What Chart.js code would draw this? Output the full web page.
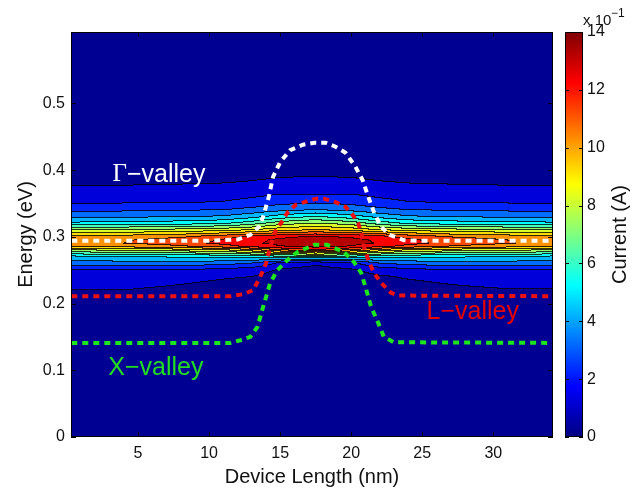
<!DOCTYPE html>
<html>
<head>
<meta charset="utf-8">
<script src="https://cdn.jsdelivr.net/npm/chart.js@4.4.1/dist/chart.umd.min.js"></script>
<style>
  html, body { margin: 0; padding: 0; background: #fff; }
  #wrap { width: 644px; height: 491px; }
</style>
</head>
<body>
<div id="wrap"><canvas id="chart"></canvas></div>
<script>
// tick labels
const xTicks = [5, 10, 15, 20, 25, 30];
const energyTicks = [0, 0.1, 0.2, 0.3, 0.4, 0.5];
const currentTicks = [0, 2, 4, 6, 8, 10, 12, 14]; // x 10^-1 A

// current map (units of 1e-1 A)
const xGrid = [0, 4, 8, 11, 13, 15, 17.5, 20, 22, 24, 27, 31, 34.5];
const energyGrid = [0.18, 0.20, 0.22, 0.24, 0.25, 0.26, 0.27, 0.28, 0.285, 0.29,
                    0.295, 0.30, 0.31, 0.32, 0.33, 0.34, 0.35, 0.37, 0.39, 0.42];
const currentColumns = [
  [0.1, 0.5, 1.0, 1.6, 1.9, 3.5, 4.8, 8.0, 10.0, 10.6, 10.5, 10.2, 8.0, 5.2, 3.7, 2.7, 1.9, 1.15, 0.6, 0.2],
  [0.1, 0.5, 1.0, 1.6, 2.0, 3.6, 5.0, 8.3, 10.3, 11.0, 10.9, 10.4, 8.1, 5.3, 3.8, 2.8, 2.0, 1.2, 0.6, 0.2],
  [0.1, 0.4, 0.8, 1.3, 2.0, 3.6, 5.2, 8.6, 10.8, 11.5, 11.4, 10.8, 8.3, 5.5, 3.9, 2.9, 2.0, 1.25, 0.65, 0.2],
  [0.1, 0.3, 0.6, 1.1, 1.7, 3.4, 5.3, 9.0, 11.5, 12.3, 12.1, 11.5, 8.6, 5.8, 4.1, 3.0, 2.1, 1.3, 0.7, 0.25],
  [0.05, 0.25, 0.55, 1.0, 1.5, 3.0, 5.5, 9.8, 12.3, 12.8, 12.7, 12.2, 9.0, 6.5, 4.6, 3.3, 2.4, 1.4, 0.8, 0.3],
  [0, 0.1, 0.3, 0.6, 0.9, 1.8, 5.8, 11.0, 12.9, 13.3, 13.2, 12.7, 9.6, 7.5, 5.4, 3.7, 2.8, 1.6, 0.95, 0.35],
  [0, 0.05, 0.1, 0.3, 0.6, 1.2, 6.0, 12.0, 13.3, 13.8, 13.6, 13.1, 10.0, 8.0, 6.0, 4.0, 3.0, 1.5, 1.0, 0.4],
  [0, 0.1, 0.3, 0.6, 0.9, 1.7, 5.8, 11.0, 12.9, 13.4, 13.3, 12.8, 9.6, 7.5, 5.4, 3.7, 2.8, 1.6, 0.95, 0.35],
  [0.05, 0.2, 0.5, 0.9, 1.4, 3.0, 5.5, 9.8, 12.3, 12.9, 12.8, 12.3, 9.0, 6.5, 4.6, 3.3, 2.4, 1.4, 0.8, 0.3],
  [0.1, 0.3, 0.6, 1.1, 1.7, 3.4, 5.3, 9.0, 11.6, 12.4, 12.2, 11.6, 8.6, 5.8, 4.1, 3.0, 2.1, 1.3, 0.7, 0.25],
  [0.1, 0.4, 0.8, 1.3, 2.0, 3.6, 5.2, 8.6, 10.9, 11.6, 11.5, 10.9, 8.3, 5.5, 3.9, 2.9, 2.0, 1.25, 0.65, 0.2],
  [0.1, 0.5, 0.95, 1.55, 2.0, 3.6, 5.0, 8.3, 10.4, 11.1, 11.0, 10.5, 8.1, 5.3, 3.8, 2.8, 2.0, 1.2, 0.6, 0.2],
  [0.1, 0.5, 0.95, 1.55, 1.9, 3.5, 4.8, 8.0, 10.0, 10.5, 10.4, 10.1, 8.0, 5.2, 3.7, 2.7, 1.9, 1.15, 0.6, 0.2]
];

// valley band edges (nm, eV)
const gammaX = [0.3, 10, 12, 12.9, 13.5, 13.8, 14.2, 14.5, 15.0, 15.7, 16.6, 17.4, 18.2, 18.9, 19.6, 20.3, 20.8, 21.2, 21.6, 22.1, 22.7, 23.7, 25, 34.2];
const gammaE = [0.294, 0.294, 0.296, 0.303, 0.315, 0.33, 0.36, 0.39, 0.412, 0.43, 0.438, 0.441, 0.441, 0.435, 0.426, 0.405, 0.385, 0.36, 0.337, 0.315, 0.303, 0.295, 0.294, 0.294];
const lX = [0.3, 11.5, 12.4, 13.1, 13.6, 14.0, 14.3, 14.7, 15.2, 15.5, 16.1, 16.7, 17.5, 18.1, 18.9, 19.6, 20.1, 20.5, 20.7, 20.9, 21.2, 21.6, 22.1, 22.8, 23.3, 34.2];
const lE = [0.211, 0.211, 0.214, 0.22, 0.24, 0.26, 0.285, 0.31, 0.325, 0.336, 0.348, 0.352, 0.357, 0.357, 0.352, 0.345, 0.333, 0.32, 0.306, 0.285, 0.265, 0.246, 0.231, 0.216, 0.212, 0.211];
const xvX = [0.3, 11.5, 12.2, 12.9, 13.4, 13.8, 14.3, 14.8, 15.5, 16.2, 17.4, 18.3, 19.5, 20.2, 20.7, 21.0, 21.4, 21.9, 22.3, 23.0, 34.2];
const xvE = [0.141, 0.141, 0.145, 0.15, 0.165, 0.195, 0.231, 0.25, 0.265, 0.277, 0.288, 0.288, 0.277, 0.262, 0.246, 0.225, 0.195, 0.171, 0.15, 0.142, 0.141];

const font = '"Liberation Sans", Arial, Helvetica, sans-serif';
Chart.defaults.font.family = font;
Chart.defaults.color = '#111';

function jet(t) {
  const c = v => Math.max(0, Math.min(1, v));
  return [
    c(Math.min(4 * t - 1.5, -4 * t + 4.5)),
    c(Math.min(4 * t - 0.5, -4 * t + 3.5)),
    c(Math.min(4 * t + 0.5, -4 * t + 2.5))
  ].map(v => Math.round(v * 255));
}

function locate(grid, v) {
  const n = grid.length;
  if (v <= grid[0]) return [0, 0];
  if (v >= grid[n - 1]) return [n - 2, 1];
  let i = 0;
  while (grid[i + 1] < v) i++;
  return [i, (v - grid[i]) / (grid[i + 1] - grid[i])];
}

const pts = (xs, ys) => xs.map((v, i) => ({ x: v, y: ys[i] }));

// filled contour map under the lines
const contourMap = {
  id: 'contourMap',
  beforeDatasetsDraw(chart) {
    const { ctx, chartArea: a, scales: { x, y } } = chart;
    const w = Math.round(a.right - a.left), h = Math.round(a.bottom - a.top);
    const off = document.createElement('canvas');
    off.width = w; off.height = h;
    const octx = off.getContext('2d');
    const img = octx.createImageData(w, h);
    const cols = [], rows = [];
    for (let px = 0; px < w; px++) cols.push(locate(xGrid, x.getValueForPixel(a.left + px + 0.5)));
    for (let py = 0; py < h; py++) rows.push(locate(energyGrid, y.getValueForPixel(a.top + py + 0.5)));
    const levels = new Int8Array(w * h);
    for (let py = 0; py < h; py++) {
      const [j, fy] = rows[py];
      for (let px = 0; px < w; px++) {
        const [i, fx] = cols[px];
        const c0 = currentColumns[i], c1 = currentColumns[i + 1];
        const v = (1 - fx) * ((1 - fy) * c0[j] + fy * c0[j + 1]) + fx * ((1 - fy) * c1[j] + fy * c1[j + 1]);
        levels[py * w + px] = Math.max(0, Math.min(13, Math.floor(v)));
      }
    }
    const palette = [];
    for (let k = 0; k < 14; k++) palette.push(jet((k + 0.25) / 14));
    for (let py = 0; py < h; py++) {
      for (let px = 0; px < w; px++) {
        const idx = py * w + px, lv = levels[idx];
        const edge = (px < w - 1 && levels[idx + 1] !== lv) || (py < h - 1 && levels[idx + w] !== lv);
        const base = palette[lv];
        const col = edge ? base.map(c => Math.round(c * 0.2)) : base;
        img.data[idx * 4] = col[0];
        img.data[idx * 4 + 1] = col[1];
        img.data[idx * 4 + 2] = col[2];
        img.data[idx * 4 + 3] = 255;
      }
    }
    octx.putImageData(img, 0, 0);
    ctx.drawImage(off, a.left, a.top);
  },
  afterDraw(chart) {
    const { ctx, chartArea: a, scales: { x, y, cb } } = chart;
    ctx.save();
    // frame + inward ticks
    ctx.strokeStyle = '#000';
    ctx.lineWidth = 1;
    ctx.strokeRect(a.left + 0.5, a.top + 0.5, a.right - a.left - 1, a.bottom - a.top - 1);
    ctx.beginPath();
    xTicks.forEach(v => {
      const px = Math.round(x.getPixelForValue(v)) + 0.5;
      ctx.moveTo(px, a.bottom); ctx.lineTo(px, a.bottom - 5);
      ctx.moveTo(px, a.top); ctx.lineTo(px, a.top + 5);
    });
    energyTicks.forEach(v => {
      const py = Math.round(y.getPixelForValue(v)) + 0.5;
      ctx.moveTo(a.left, py); ctx.lineTo(a.left + 5, py);
      ctx.moveTo(a.right, py); ctx.lineTo(a.right - 5, py);
    });
    ctx.stroke();

    // colour bar
    const cl = Math.round(a.right) + 12, cw = 18;
    for (let py = Math.round(a.top); py < Math.round(a.bottom); py++) {
      const c = jet(cb.getValueForPixel(py + 0.5) / 14);
      ctx.fillStyle = `rgb(${c[0]},${c[1]},${c[2]})`;
      ctx.fillRect(cl, py, cw, 1);
    }
    ctx.strokeRect(cl + 0.5, a.top + 0.5, cw - 1, a.bottom - a.top - 1);
    ctx.beginPath();
    currentTicks.forEach(v => {
      const py = Math.round(cb.getPixelForValue(v)) + 0.5;
      ctx.moveTo(cl, py); ctx.lineTo(cl + 4, py);
      ctx.moveTo(cl + cw, py); ctx.lineTo(cl + cw - 4, py);
    });
    ctx.stroke();
    ctx.fillStyle = '#111';
    ctx.textBaseline = 'alphabetic';
    ctx.textAlign = 'left';
    ctx.font = `15px ${font}`;
    ctx.fillText('x 10', cl + 18, 25);
    ctx.font = `12px ${font}`;
    ctx.fillText('\u22121', cl + 46, 17);
    ctx.save();
    ctx.translate(620, (a.top + a.bottom) / 2);
    ctx.rotate(-Math.PI / 2);
    ctx.textAlign = 'center';
    ctx.textBaseline = 'middle';
    ctx.font = `20px ${font}`;
    ctx.fillText('Current (A)', 0, 0);
    ctx.restore();

    // valley labels
    ctx.textBaseline = 'middle';
    ctx.textAlign = 'left';
    let gx = x.getPixelForValue(3.2), gy = y.getPixelForValue(0.393);
    ctx.fillStyle = '#fff';
    ctx.font = `25px "Liberation Serif", "Times New Roman", serif`;
    ctx.fillText('\u0393', gx, gy);
    gx += ctx.measureText('\u0393').width;
    ctx.font = `25px ${font}`;
    ctx.fillText('\u2212valley', gx, gy);
    ctx.fillStyle = '#e60000';
    ctx.fillText('L\u2212valley', x.getPixelForValue(25.3), y.getPixelForValue(0.187));
    ctx.fillStyle = '#22dd22';
    ctx.fillText('X\u2212valley', x.getPixelForValue(2.9), y.getPixelForValue(0.103));
    ctx.restore();
  }
};

const line = (data, color) => ({
  data, borderColor: color, borderWidth: 4, borderDash: [6, 5], borderCapStyle: 'butt',
  pointRadius: 0, showLine: true, fill: false, tension: 0
});

new Chart(document.getElementById('chart'), {
  type: 'scatter',
  data: {
    datasets: [
      line(pts(xvX, xvE), '#1ee61e'),
      line(pts(lX, lE), '#ee1111'),
      line(pts(gammaX, gammaE), '#ffffff')
    ]
  },
  options: {
    responsive: true,
    maintainAspectRatio: false,
    animation: false,
    events: [],
    layout: { padding: { top: 32, left: 0, right: 2, bottom: 0 } },
    plugins: { legend: { display: false }, tooltip: { enabled: false } },
    scales: {
      x: {
        type: 'linear', position: 'bottom', min: 0.28, max: 34.2,
        afterBuildTicks: s => { s.ticks = xTicks.map(v => ({ value: v })); },
        afterFit: s => { s.height = 54; },
        grid: { display: false, drawTicks: false },
        border: { display: false },
        ticks: { padding: 7, font: { size: 16 }, color: '#111' },
        title: { display: true, text: 'Device Length (nm)', font: { size: 20 }, color: '#111', padding: { top: 0, bottom: 2 } }
      },
      y: {
        type: 'linear', position: 'left', min: 0, max: 0.607,
        afterBuildTicks: s => { s.ticks = energyTicks.map(v => ({ value: v })); },
        afterFit: s => { s.width = 71; },
        grid: { display: false, drawTicks: false },
        border: { display: false },
        ticks: { padding: 6, font: { size: 16 }, color: '#111', callback: v => v === 0 ? '0' : v.toFixed(1) },
        title: { display: true, text: 'Energy (eV)', font: { size: 20 }, color: '#111', padding: { top: 14, bottom: 0 } }
      },
      cb: {
        type: 'linear', position: 'right', min: 0, max: 14,
        afterBuildTicks: s => { s.ticks = currentTicks.map(v => ({ value: v })); },
        afterFit: s => { s.width = 89; s.paddingTop = 0; s.paddingBottom = 0; },
        grid: { display: false, drawTicks: false },
        border: { display: false },
        ticks: { padding: 34, font: { size: 16 }, color: '#111' }
      }
    }
  },
  plugins: [contourMap]
});
</script>
</body>
</html>
